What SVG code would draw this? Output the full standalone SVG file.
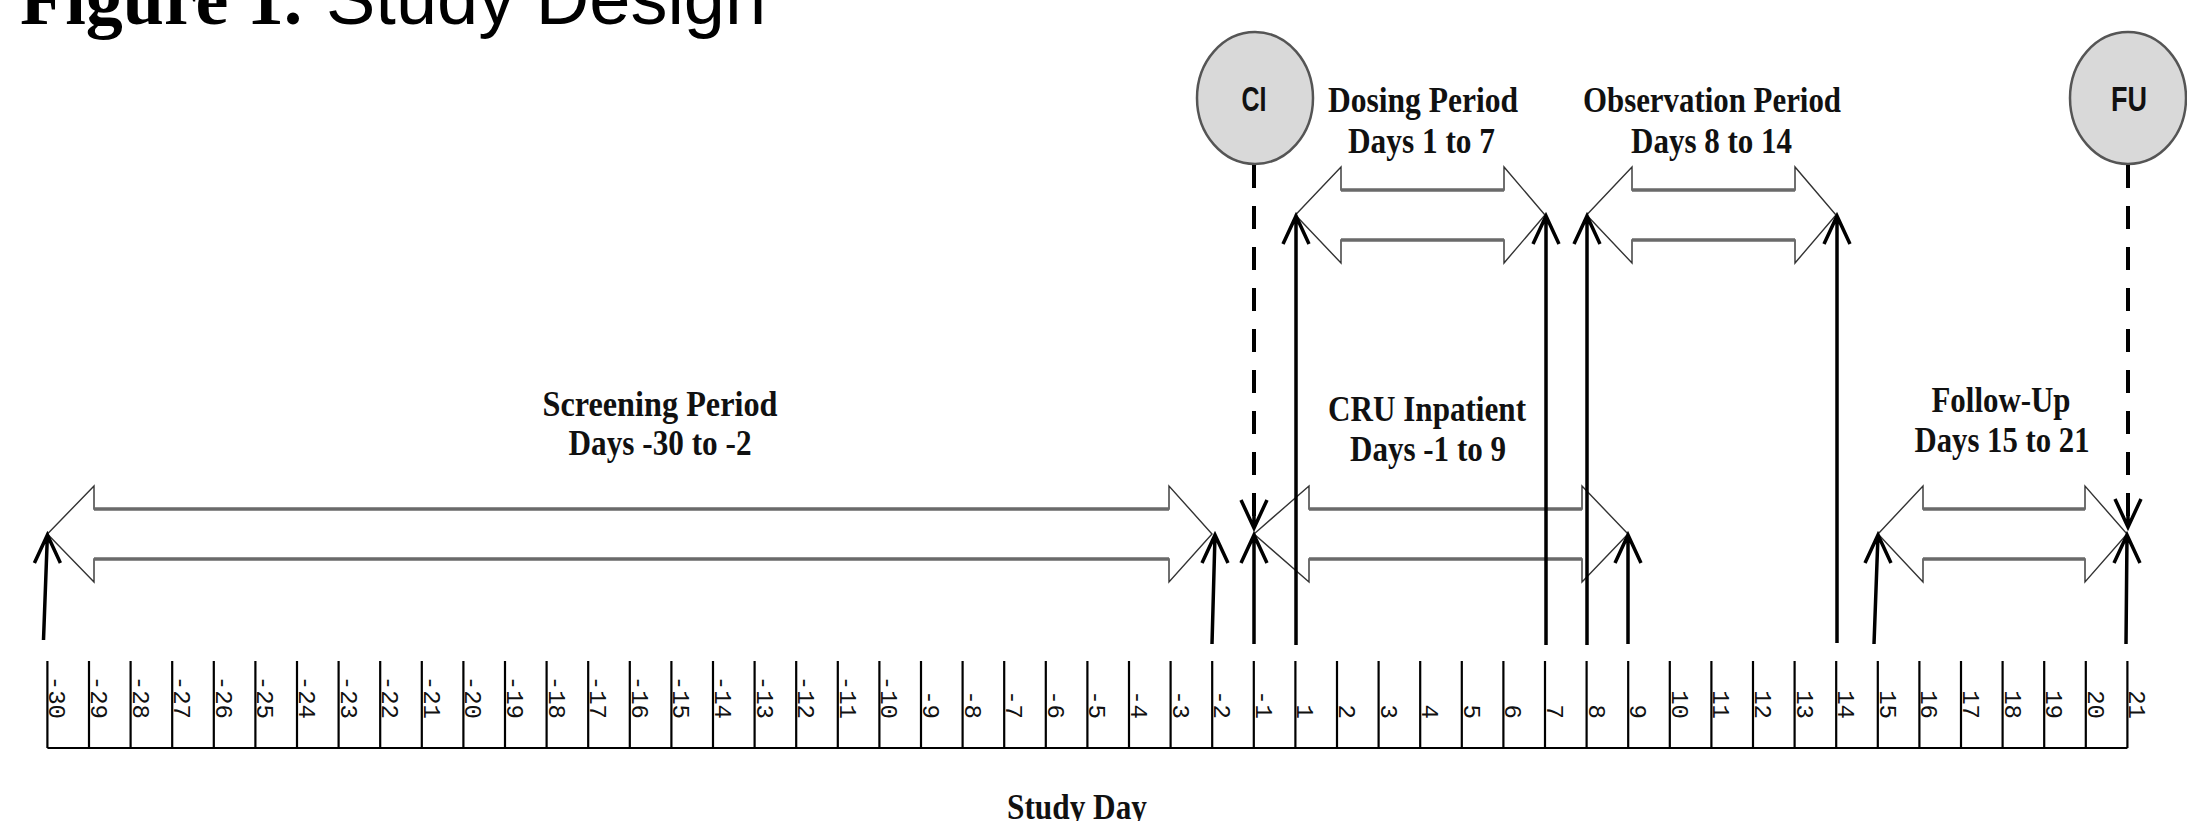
<svg xmlns="http://www.w3.org/2000/svg" width="2187" height="821" viewBox="0 0 2187 821">
<style>
.lbl{font-family:"Liberation Serif","Times New Roman",serif;font-weight:bold;font-size:36px;fill:#111;text-anchor:middle}
.tick{font-family:"Liberation Mono","Courier New",monospace;font-size:24px;fill:#111;text-anchor:end}
.circ{fill:#d9d9d9;stroke:#555;stroke-width:2.5}
.ctext{font-family:"Liberation Sans Narrow","Liberation Sans",Arial,sans-serif;font-weight:bold;font-size:35px;fill:#111;text-anchor:middle}
.dbl{fill:#fff;stroke:#333;stroke-width:1.4;stroke-linejoin:miter}
.shaft{stroke:#6a6a6a;stroke-width:3.5;fill:none}
.varrow{stroke:#000;stroke-width:3.5;fill:none;stroke-linejoin:miter}
.dash{stroke:#000;stroke-width:4;stroke-dasharray:23 18;fill:none}
.axis{stroke:#000;stroke-width:2.2;fill:none}
</style>
<rect width="2187" height="821" fill="#fff"/>
<g id="title">
<text x="20" y="24" font-size="74"><tspan font-family="Liberation Serif,Times New Roman,serif" font-weight="bold">Figure 1.</tspan><tspan x="326" font-family="Liberation Sans,Arial,sans-serif">Study Design</tspan></text>
</g>
<g id="period-arrows">
<polygon id="screening" class="dbl" points="47.4,534 94,486 94,509 1169,509 1169,486 1212,534 1169,582 1169,559 94,559 94,582"/>
<path class="shaft" d="M94,509 H1169 M94,559 H1169"/>
<polygon id="cru" class="dbl" points="1254,534 1309,486 1309,509 1582,509 1582,486 1628,534 1582,582 1582,559 1309,559 1309,582"/>
<path class="shaft" d="M1309,509 H1582 M1309,559 H1582"/>
<polygon id="followup" class="dbl" points="1878,534 1923,486 1923,509 2085,509 2085,486 2127,534 2085,582 2085,559 1923,559 1923,582"/>
<path class="shaft" d="M1923,509 H2085 M1923,559 H2085"/>
<polygon id="dosing" class="dbl" points="1295.4,215 1341,167 1341,190 1504,190 1504,167 1545,215 1504,263 1504,240 1341,240 1341,263"/>
<path class="shaft" d="M1341,190 H1504 M1341,240 H1504"/>
<polygon id="observation" class="dbl" points="1586.6,215 1632,167 1632,190 1795,190 1795,167 1836,215 1795,263 1795,240 1632,240 1632,263"/>
<path class="shaft" d="M1632,190 H1795 M1632,240 H1795"/>
</g>
<g id="labels">
<text class="lbl" x="660" y="416" textLength="235" lengthAdjust="spacingAndGlyphs">Screening Period</text>
<text class="lbl" x="660" y="455" textLength="183" lengthAdjust="spacingAndGlyphs">Days -30 to -2</text>
<text class="lbl" x="1423" y="112" textLength="190" lengthAdjust="spacingAndGlyphs">Dosing Period</text>
<text class="lbl" x="1421.5" y="153" textLength="147" lengthAdjust="spacingAndGlyphs">Days 1 to 7</text>
<text class="lbl" x="1712" y="112" textLength="258" lengthAdjust="spacingAndGlyphs">Observation Period</text>
<text class="lbl" x="1711.5" y="153" textLength="161" lengthAdjust="spacingAndGlyphs">Days 8 to 14</text>
<text class="lbl" x="1427" y="421" textLength="198" lengthAdjust="spacingAndGlyphs">CRU Inpatient</text>
<text class="lbl" x="1428" y="461" textLength="156" lengthAdjust="spacingAndGlyphs">Days -1 to 9</text>
<text class="lbl" x="2001" y="412" textLength="139" lengthAdjust="spacingAndGlyphs">Follow-Up</text>
<text class="lbl" x="2002" y="452" textLength="175" lengthAdjust="spacingAndGlyphs">Days 15 to 21</text>
<text class="lbl" x="1077" y="819" font-size="31" textLength="140" lengthAdjust="spacingAndGlyphs">Study Day</text>
</g>
<g id="node-ci">
<ellipse class="circ" cx="1255" cy="98" rx="58" ry="66"/>
<text class="ctext" x="1254" y="111" textLength="25" lengthAdjust="spacingAndGlyphs">CI</text>
</g>
<g id="node-fu">
<ellipse class="circ" cx="2128" cy="98" rx="58" ry="66"/>
<text class="ctext" x="2129" y="111" textLength="36" lengthAdjust="spacingAndGlyphs">FU</text>
</g>
<g id="connectors">
<line class="dash" x1="1254" y1="165" x2="1254" y2="516"/>
<path class="varrow" d="M1254,500 V528 M1241,500 L1254,528 L1267,500"/>
<line class="dash" x1="2128" y1="165" x2="2128" y2="516"/>
<path class="varrow" d="M2128,500 V527 M2115,499 L2128,527 L2141,499"/>
<path class="varrow" d="M43.5,640 L47.4,535 M34.4,563 L47.4,535 L60.4,563"/>
<path class="varrow" d="M1212,644 L1215,535 M1202,563 L1215,535 L1228,563"/>
<path class="varrow" d="M1254,644 V535 M1241,563 L1254,535 L1267,563"/>
<path class="varrow" d="M1628,644 V535 M1615,563 L1628,535 L1641,563"/>
<path class="varrow" d="M1874,644 L1878,535 M1865,563 L1878,535 L1891,563"/>
<path class="varrow" d="M2126,644 L2127,535 M2114,563 L2127,535 L2140,563"/>
<path class="varrow" d="M1296,645 V216 M1283,244 L1296,216 L1309,244"/>
<path class="varrow" d="M1546,645 V216 M1533,244 L1546,216 L1559,244"/>
<path class="varrow" d="M1587,645 V216 M1574,244 L1587,216 L1600,244"/>
<path class="varrow" d="M1837,643 V216 M1824,244 L1837,216 L1850,244"/>
</g>
<g id="axis">
<path class="axis" stroke-width="2.8" d="M47.4,748 H2127.4"/>
<path class="axis" d="M47.4,661V748M89,661V748M130.6,661V748M172.2,661V748M213.8,661V748M255.4,661V748M297,661V748M338.6,661V748M380.2,661V748M421.8,661V748M463.4,661V748M505,661V748M546.6,661V748M588.2,661V748M629.8,661V748M671.4,661V748M713,661V748M754.6,661V748M796.2,661V748M837.8,661V748M879.4,661V748M921,661V748M962.6,661V748M1004.2,661V748M1045.8,661V748M1087.4,661V748M1129,661V748M1170.6,661V748M1212.2,661V748M1253.8,661V748M1295.4,661V748M1337,661V748M1378.6,661V748M1420.2,661V748M1461.8,661V748M1503.4,661V748M1545,661V748M1586.6,661V748M1628.2,661V748M1669.8,661V748M1711.4,661V748M1753,661V748M1794.6,661V748M1836.2,661V748M1877.8,661V748M1919.4,661V748M1961,661V748M2002.6,661V748M2044.2,661V748M2085.8,661V748M2127.4,661V748"/>
<text class="tick" transform="translate(49.4,719) rotate(90)">-30</text>
<text class="tick" transform="translate(91,719) rotate(90)">-29</text>
<text class="tick" transform="translate(132.6,719) rotate(90)">-28</text>
<text class="tick" transform="translate(174.2,719) rotate(90)">-27</text>
<text class="tick" transform="translate(215.8,719) rotate(90)">-26</text>
<text class="tick" transform="translate(257.4,719) rotate(90)">-25</text>
<text class="tick" transform="translate(299,719) rotate(90)">-24</text>
<text class="tick" transform="translate(340.6,719) rotate(90)">-23</text>
<text class="tick" transform="translate(382.2,719) rotate(90)">-22</text>
<text class="tick" transform="translate(423.8,719) rotate(90)">-21</text>
<text class="tick" transform="translate(465.4,719) rotate(90)">-20</text>
<text class="tick" transform="translate(507,719) rotate(90)">-19</text>
<text class="tick" transform="translate(548.6,719) rotate(90)">-18</text>
<text class="tick" transform="translate(590.2,719) rotate(90)">-17</text>
<text class="tick" transform="translate(631.8,719) rotate(90)">-16</text>
<text class="tick" transform="translate(673.4,719) rotate(90)">-15</text>
<text class="tick" transform="translate(715,719) rotate(90)">-14</text>
<text class="tick" transform="translate(756.6,719) rotate(90)">-13</text>
<text class="tick" transform="translate(798.2,719) rotate(90)">-12</text>
<text class="tick" transform="translate(839.8,719) rotate(90)">-11</text>
<text class="tick" transform="translate(881.4,719) rotate(90)">-10</text>
<text class="tick" transform="translate(923,719) rotate(90)">-9</text>
<text class="tick" transform="translate(964.6,719) rotate(90)">-8</text>
<text class="tick" transform="translate(1006.2,719) rotate(90)">-7</text>
<text class="tick" transform="translate(1047.8,719) rotate(90)">-6</text>
<text class="tick" transform="translate(1089.4,719) rotate(90)">-5</text>
<text class="tick" transform="translate(1131,719) rotate(90)">-4</text>
<text class="tick" transform="translate(1172.6,719) rotate(90)">-3</text>
<text class="tick" transform="translate(1214.2,719) rotate(90)">-2</text>
<text class="tick" transform="translate(1255.8,719) rotate(90)">-1</text>
<text class="tick" transform="translate(1297.4,719) rotate(90)">1</text>
<text class="tick" transform="translate(1339,719) rotate(90)">2</text>
<text class="tick" transform="translate(1380.6,719) rotate(90)">3</text>
<text class="tick" transform="translate(1422.2,719) rotate(90)">4</text>
<text class="tick" transform="translate(1463.8,719) rotate(90)">5</text>
<text class="tick" transform="translate(1505.4,719) rotate(90)">6</text>
<text class="tick" transform="translate(1547,719) rotate(90)">7</text>
<text class="tick" transform="translate(1588.6,719) rotate(90)">8</text>
<text class="tick" transform="translate(1630.2,719) rotate(90)">9</text>
<text class="tick" transform="translate(1671.8,719) rotate(90)">10</text>
<text class="tick" transform="translate(1713.4,719) rotate(90)">11</text>
<text class="tick" transform="translate(1755,719) rotate(90)">12</text>
<text class="tick" transform="translate(1796.6,719) rotate(90)">13</text>
<text class="tick" transform="translate(1838.2,719) rotate(90)">14</text>
<text class="tick" transform="translate(1879.8,719) rotate(90)">15</text>
<text class="tick" transform="translate(1921.4,719) rotate(90)">16</text>
<text class="tick" transform="translate(1963,719) rotate(90)">17</text>
<text class="tick" transform="translate(2004.6,719) rotate(90)">18</text>
<text class="tick" transform="translate(2046.2,719) rotate(90)">19</text>
<text class="tick" transform="translate(2087.8,719) rotate(90)">20</text>
<text class="tick" transform="translate(2129.4,719) rotate(90)">21</text>
</g>
</svg>
